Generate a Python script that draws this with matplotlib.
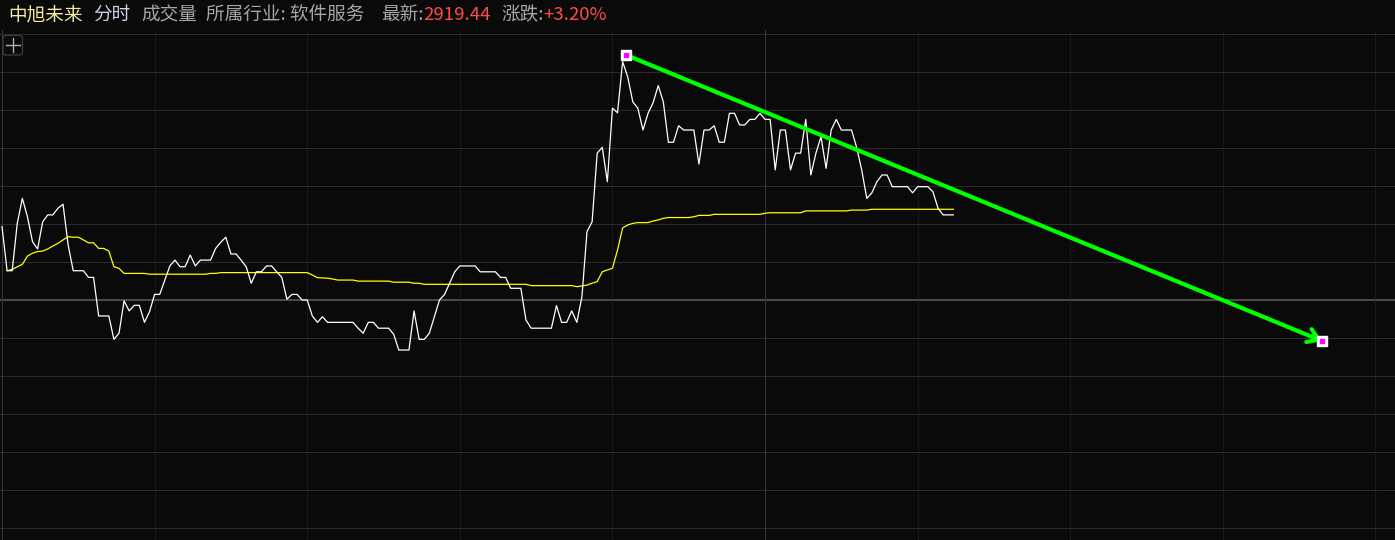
import matplotlib.pyplot as plt
from matplotlib.patches import FancyBboxPatch

plt.rcParams['font.family'] = ['Noto Sans CJK SC', 'DejaVu Sans']

# intraday change vs previous close, % (one point per minute)
price_pct = [
    2.76, 1.10, 1.10, 2.88, 3.82, 3.13, 2.19, 1.92, 2.94, 3.20,
    3.20, 3.45, 3.60, 2.07, 1.10, 1.10, 1.10, 0.85, 0.85, -0.60,
    -0.60, -0.60, -1.48, -1.25, -0.03, -0.41, -0.20, -0.20, -0.84, -0.44,
    0.21, 0.21, 0.75, 1.28, 1.50, 1.25, 1.25, 1.69, 1.28, 1.50,
    1.50, 1.50, 1.94, 2.17, 2.36, 1.73, 1.73, 1.50, 1.25, 0.63,
    1.06, 1.06, 1.28, 1.28, 1.06, 0.85, 0.03, 0.21, 0.21, 0.00,
    0.00, -0.60, -0.84, -0.63, -0.84, -0.84, -0.84, -0.84, -0.84, -0.84,
    -1.06, -1.25, -0.84, -0.84, -1.06, -1.06, -1.06, -1.29, -1.88, -1.88,
    -1.88, -0.41, -1.48, -1.48, -1.25, -0.63, 0.00, 0.21, 0.63, 1.06,
    1.28, 1.28, 1.28, 1.28, 1.06, 1.06, 1.06, 1.06, 0.85, 0.85,
    0.44, 0.44, 0.44, -0.75, -1.06, -1.06, -1.06, -1.06, -1.06, -0.21,
    -0.84, -0.84, -0.41, -0.84, 0.12, 2.57, 2.94, 5.52, 5.74, 4.45,
    7.21, 7.04, 8.96, 8.39, 7.45, 7.21, 6.39, 7.02, 7.42, 8.06,
    7.45, 5.93, 5.93, 6.55, 6.39, 6.39, 6.39, 5.11, 6.39, 6.39,
    6.55, 5.93, 5.93, 7.02, 7.02, 6.58, 6.58, 6.79, 6.79, 7.02,
    6.79, 6.79, 4.89, 6.39, 6.39, 4.89, 5.52, 5.52, 6.79, 4.70,
    5.52, 6.14, 4.95, 6.39, 6.79, 6.39, 6.39, 6.39, 5.74, 4.89,
    3.82, 4.03, 4.45, 4.70, 4.70, 4.26, 4.26, 4.26, 4.26, 4.03,
    4.26, 4.26, 4.26, 4.07, 3.45, 3.20, 3.20, 3.20,
]

# average price line, % vs previous close
avg_pct = [
    float('nan'), 1.10, 1.15, 1.25, 1.34, 1.65, 1.76, 1.82, 1.84, 1.92,
    2.03, 2.13, 2.26, 2.38, 2.36, 2.36, 2.26, 2.15, 2.15, 1.94,
    1.94, 1.84, 1.25, 1.19, 1.00, 1.00, 1.00, 1.00, 1.00, 0.97,
    0.97, 0.97, 0.97, 0.97, 0.97, 0.97, 0.97, 0.97, 0.97, 0.97,
    0.97, 1.00, 1.00, 1.03, 1.03, 1.03, 1.03, 1.03, 1.03, 1.03,
    1.03, 1.03, 1.03, 1.03, 1.03, 1.03, 1.03, 1.03, 1.03, 1.03,
    1.03, 0.94, 0.84, 0.83, 0.82, 0.79, 0.75, 0.75, 0.75, 0.75,
    0.71, 0.71, 0.71, 0.71, 0.71, 0.71, 0.71, 0.67, 0.67, 0.67,
    0.67, 0.63, 0.63, 0.59, 0.59, 0.59, 0.59, 0.59, 0.59, 0.59,
    0.59, 0.59, 0.59, 0.59, 0.59, 0.59, 0.59, 0.59, 0.59, 0.59,
    0.59, 0.59, 0.59, 0.59, 0.54, 0.54, 0.54, 0.54, 0.54, 0.54,
    0.54, 0.54, 0.54, 0.50, 0.53, 0.56, 0.63, 0.69, 1.06, 1.13,
    1.19, 1.88, 2.71, 2.82, 2.88, 2.91, 2.91, 2.91, 2.97, 3.01,
    3.07, 3.10, 3.10, 3.10, 3.10, 3.10, 3.13, 3.18, 3.18, 3.18,
    3.22, 3.22, 3.22, 3.22, 3.22, 3.22, 3.22, 3.22, 3.22, 3.22,
    3.26, 3.28, 3.28, 3.28, 3.28, 3.28, 3.28, 3.28, 3.35, 3.35,
    3.35, 3.35, 3.35, 3.35, 3.35, 3.35, 3.35, 3.38, 3.38, 3.38,
    3.38, 3.41, 3.41, 3.41, 3.41, 3.41, 3.41, 3.41, 3.41, 3.41,
    3.41, 3.41, 3.41, 3.41, 3.41, 3.41, 3.41, 3.41,
]
minutes = list(range(len(price_pct)))

# header items: (text, colour, left pixel)
header = [
    ('中旭未来', '#f2eea0', 8),
    ('分时', '#c9d3e6', 93),
    ('成交量', '#a6a6a6', 141),
    ('所属行业: 软件服务', '#a6a6a6', 206),
    ('最新:', '#a6a6a6', 381),
    ('2919.44', '#ff4a4a', 423),
    ('涨跌:', '#a6a6a6', 501),
    ('+3.20%', '#ff4a4a', 543),
]

# trend arrow drawn by hand on the chart (minute, %)
arrow_start = (122.7, 9.21)
arrow_end = (259.5, -1.54)

W, H = 1395, 540
bg = '#0a0a0a'
px_per_min = 5.087
px_per_pct = 26.6
zero_px = 300
top_px = 30

fig = plt.figure(figsize=(W / 100, H / 100), dpi=100, facecolor=bg)
ax = fig.add_axes([0, 0, 1, (H - top_px) / H])
ax.set_facecolor(bg)
ax.set_xlim(-2 / px_per_min, (W - 2) / px_per_min)
ax.set_ylim((zero_px - H) / px_per_pct, (zero_px - top_px) / px_per_pct)
for s in ax.spines.values():
    s.set_visible(False)
ax.set_xticks([])
ax.set_yticks([])

# horizontal grid, 10% limit split in 7 rows
for k in range(-6, 8):
    y = k * 10 / 7
    if k == 0:
        ax.axhline(y, color='#4a4a4a', lw=1.5, zorder=1)
    else:
        ax.axhline(y, color='#2a2a2a', lw=0.8, zorder=1)

# vertical grid every 30 minutes
for m in range(0, 300, 30):
    if m in (0, 150):
        ax.axvline(m, color='#333333', lw=0.8, zorder=1)
    else:
        ax.axvline(m, color='#333333', lw=0.8, ls=(0, (0.8, 1.6)), zorder=1)

ax.plot(minutes, avg_pct, color='#ffff00', lw=0.9, zorder=3)
ax.plot(minutes, price_pct, color='#ffffff', lw=0.9, zorder=4)

ax.annotate('', xy=arrow_end, xytext=arrow_start,
            arrowprops=dict(arrowstyle='->,head_length=0.75,head_width=0.5',
                            color='#00ff00', lw=3, shrinkA=0, shrinkB=0),
            zorder=5)
for pt in (arrow_start, arrow_end):
    ax.plot(*pt, marker='s', ms=7, color='white', mec='white', zorder=6)
    ax.plot(*pt, marker='s', ms=3.5, color='#ff00ff', mec='#ff00ff', zorder=7)

# overlay in pixel units for header and the zoom button
ov = fig.add_axes([0, 0, 1, 1])
ov.set_xlim(0, W)
ov.set_ylim(H, 0)
ov.axis('off')
ov.patch.set_alpha(0)

for txt, col, x in header:
    ov.text(x, 15, txt, color=col, fontsize=13.4, ha='left', va='center')

ov.add_patch(FancyBboxPatch((3, 35.5), 19.5, 19.5, boxstyle='round,pad=0,rounding_size=3',
                            fc='none', ec='#3a3a3a', lw=1))
ov.plot([5.5, 19.5], [45, 45], color='#b0b0b0', lw=1)
ov.plot([12.5, 12.5], [38, 52], color='#b0b0b0', lw=1)

fig.savefig('out.png', dpi=100, facecolor=bg)
